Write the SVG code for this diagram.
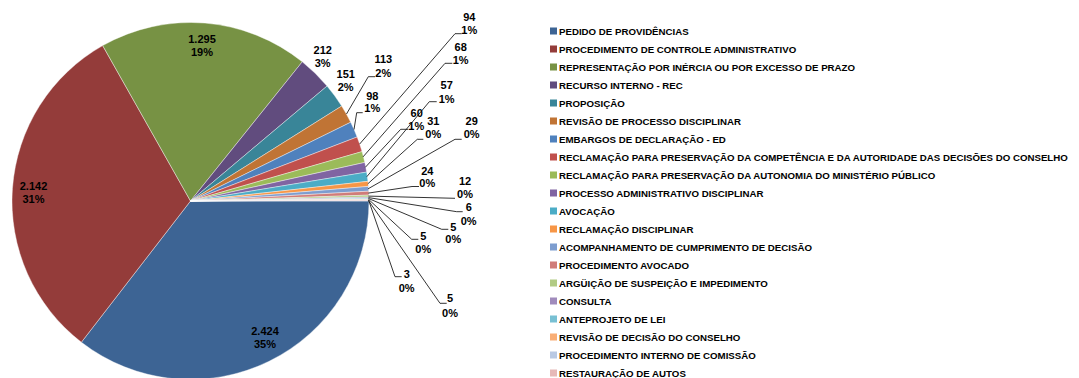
<svg xmlns="http://www.w3.org/2000/svg" width="1079" height="378" viewBox="0 0 1079 378">
<style>
.sl{stroke:#ffffff;stroke-width:0.4}
.dl{font-family:"Liberation Sans",Arial,sans-serif;font-weight:bold;font-size:11px;fill:#000;text-anchor:middle}
.lg{font-family:"Liberation Sans",Arial,sans-serif;font-weight:bold;font-size:9.7px;fill:#000}
.ld{fill:none;stroke:#000;stroke-width:0.8}
</style>
<rect width="1079" height="378" fill="#ffffff"/>
<g id="pie">
<path id="s1" class="sl" fill="#3D6494" d="M190.5,201 L369,201 A178.5,178.5 0 0 1 81.37,342.25 Z"/>
<path id="s2" class="sl" fill="#943C3A" d="M190.5,201 L81.37,342.25 A178.5,178.5 0 0 1 102.68,45.6 Z"/>
<path id="s3" class="sl" fill="#779244" d="M190.5,201 L102.68,45.6 A178.5,178.5 0 0 1 302.28,61.82 Z"/>
<path id="s4" class="sl" fill="#614C7E" d="M190.5,201 L302.28,61.82 A178.5,178.5 0 0 1 327.05,86.05 Z"/>
<path id="s5" class="sl" fill="#398598" d="M190.5,201 L327.05,86.05 A178.5,178.5 0 0 1 341.67,106.07 Z"/>
<path id="s6" class="sl" fill="#C07435" d="M190.5,201 L341.67,106.07 A178.5,178.5 0 0 1 350.69,122.25 Z"/>
<path id="s7" class="sl" fill="#4F81BD" d="M190.5,201 L350.69,122.25 A178.5,178.5 0 0 1 357.13,136.99 Z"/>
<path id="s8" class="sl" fill="#C0504D" d="M190.5,201 L357.13,136.99 A178.5,178.5 0 0 1 362.04,151.61 Z"/>
<path id="s9" class="sl" fill="#9BBB59" d="M190.5,201 L362.04,151.61 A178.5,178.5 0 0 1 364.79,162.42 Z"/>
<path id="s10" class="sl" fill="#8064A2" d="M190.5,201 L364.79,162.42 A178.5,178.5 0 0 1 366.64,172.09 Z"/>
<path id="s11" class="sl" fill="#4BACC6" d="M190.5,201 L366.64,172.09 A178.5,178.5 0 0 1 367.92,181.35 Z"/>
<path id="s12" class="sl" fill="#F79646" d="M190.5,201 L367.92,181.35 A178.5,178.5 0 0 1 368.4,186.42 Z"/>
<path id="s13" class="sl" fill="#7D9DCF" d="M190.5,201 L368.4,186.42 A178.5,178.5 0 0 1 368.73,191.17 Z"/>
<path id="s14" class="sl" fill="#D07C79" d="M190.5,201 L368.73,191.17 A178.5,178.5 0 0 1 368.9,195.1 Z"/>
<path id="s15" class="sl" fill="#B2CB84" d="M190.5,201 L368.9,195.1 A178.5,178.5 0 0 1 368.96,197.07 Z"/>
<path id="s16" class="sl" fill="#A08BBC" d="M190.5,201 L368.96,197.07 A178.5,178.5 0 0 1 368.98,198.05 Z"/>
<path id="s17" class="sl" fill="#78C0D3" d="M190.5,201 L368.98,198.05 A178.5,178.5 0 0 1 368.99,198.88 Z"/>
<path id="s18" class="sl" fill="#F9AE76" d="M190.5,201 L368.99,198.88 A178.5,178.5 0 0 1 369,199.69 Z"/>
<path id="s19" class="sl" fill="#B9C9E3" d="M190.5,201 L369,199.69 A178.5,178.5 0 0 1 369,200.18 Z"/>
<path id="s20" class="sl" fill="#E6B9B8" d="M190.5,201 L369,200.18 A178.5,178.5 0 0 1 369,201 Z"/>
</g>
<g id="connectors">
<polyline class="ld" points="346.5,114 368.3,76.7 375,76.7"/>
<polyline class="ld" points="354,129.5 356.7,112.7 362.7,112.7"/>
<polyline class="ld" points="359.5,144.2 455,33.7 461.7,33.7"/>
<polyline class="ld" points="363,156.9 445,63.3 452.3,63.3"/>
<polyline class="ld" points="365.3,167.3 400.7,129.3 408.3,129.3"/>
<polyline class="ld" points="366.8,176.7 429.3,101.7 436.7,101.7"/>
<polyline class="ld" points="367.7,183.9 417.3,139.3 423.3,139.3"/>
<polyline class="ld" points="368.1,188.8 455,139.3 461.7,139.3"/>
<polyline class="ld" points="368.3,193.1 412,186.5 419,186.5"/>
<polyline class="ld" points="368.4,196.1 455,198.3"/>
<polyline class="ld" points="368.5,197.6 456.7,211.7 462.7,211.7"/>
<polyline class="ld" points="368.5,198.5 441.7,229.3 448.3,229.3"/>
<polyline class="ld" points="368.5,199.3 411.7,239.3 418.3,239.3"/>
<polyline class="ld" points="368.5,199.9 395,276.7 401.7,276.7"/>
<polyline class="ld" points="368.5,200.6 440,303.3 446.7,303.3"/>
</g>
<g id="labels">
<text class="dl" x="265" y="335">2.424</text><text class="dl" x="265" y="348">35%</text>
<text class="dl" x="33.5" y="189.7">2.142</text><text class="dl" x="33.5" y="203">31%</text>
<text class="dl" x="202" y="43">1.295</text><text class="dl" x="202" y="56">19%</text>
<text class="dl" x="322.7" y="54">212</text><text class="dl" x="322.7" y="67">3%</text>
<text class="dl" x="345.7" y="78">151</text><text class="dl" x="345.7" y="91">2%</text>
<text class="dl" x="383.3" y="63.3">113</text><text class="dl" x="383.3" y="76.7">2%</text>
<text class="dl" x="372.3" y="99.7">98</text><text class="dl" x="372.3" y="112.3">1%</text>
<text class="dl" x="469.3" y="20.7">94</text><text class="dl" x="469.3" y="34">1%</text>
<text class="dl" x="460.7" y="50.7">68</text><text class="dl" x="460.7" y="64">1%</text>
<text class="dl" x="416.7" y="116.7">60</text><text class="dl" x="416.3" y="129.7">1%</text>
<text class="dl" x="446.7" y="89.3">57</text><text class="dl" x="446.7" y="103">1%</text>
<text class="dl" x="433.3" y="124.7">31</text><text class="dl" x="433.3" y="138.3">0%</text>
<text class="dl" x="471.7" y="124.7">29</text><text class="dl" x="471.7" y="138.3">0%</text>
<text class="dl" x="427.3" y="174.7">24</text><text class="dl" x="427.3" y="187.3">0%</text>
<text class="dl" x="465" y="184.7">12</text><text class="dl" x="465" y="197.7">0%</text>
<text class="dl" x="468.7" y="211.3">6</text><text class="dl" x="468.7" y="224.7">0%</text>
<text class="dl" x="453.3" y="230.7">5</text><text class="dl" x="453.3" y="243.3">0%</text>
<text class="dl" x="423.3" y="240">5</text><text class="dl" x="423.3" y="253.3">0%</text>
<text class="dl" x="406.7" y="278.3">3</text><text class="dl" x="406.7" y="291.7">0%</text>
<text class="dl" x="450" y="301.7">5</text><text class="dl" x="450" y="316.7">0%</text>
</g>
<g id="legend">
<rect x="550" y="27.5" width="7" height="7" fill="#3D6494"/><text class="lg" x="559" y="34.5">PEDIDO DE PROVIDÊNCIAS</text>
<rect x="550" y="45.5" width="7" height="7" fill="#943C3A"/><text class="lg" x="559" y="52.5">PROCEDIMENTO DE CONTROLE ADMINISTRATIVO</text>
<rect x="550" y="63.5" width="7" height="7" fill="#779244"/><text class="lg" x="559" y="70.5">REPRESENTAÇÃO POR INÉRCIA OU POR EXCESSO DE PRAZO</text>
<rect x="550" y="81.5" width="7" height="7" fill="#614C7E"/><text class="lg" x="559" y="88.5">RECURSO INTERNO - REC</text>
<rect x="550" y="99.5" width="7" height="7" fill="#398598"/><text class="lg" x="559" y="106.5">PROPOSIÇÃO</text>
<rect x="550" y="117.5" width="7" height="7" fill="#C07435"/><text class="lg" x="559" y="124.5">REVISÃO DE PROCESSO DISCIPLINAR</text>
<rect x="550" y="135.5" width="7" height="7" fill="#4F81BD"/><text class="lg" x="559" y="142.5">EMBARGOS DE DECLARAÇÃO - ED</text>
<rect x="550" y="153.5" width="7" height="7" fill="#C0504D"/><text class="lg" x="559" y="160.5">RECLAMAÇÃO PARA PRESERVAÇÃO DA COMPETÊNCIA E DA AUTORIDADE DAS DECISÕES DO CONSELHO</text>
<rect x="550" y="171.5" width="7" height="7" fill="#9BBB59"/><text class="lg" x="559" y="178.5">RECLAMAÇÃO PARA PRESERVAÇÃO DA AUTONOMIA DO MINISTÉRIO PÚBLICO</text>
<rect x="550" y="189.5" width="7" height="7" fill="#8064A2"/><text class="lg" x="559" y="196.5">PROCESSO ADMINISTRATIVO DISCIPLINAR</text>
<rect x="550" y="207.5" width="7" height="7" fill="#4BACC6"/><text class="lg" x="559" y="214.5">AVOCAÇÃO</text>
<rect x="550" y="225.5" width="7" height="7" fill="#F79646"/><text class="lg" x="559" y="232.5">RECLAMAÇÃO DISCIPLINAR</text>
<rect x="550" y="243.5" width="7" height="7" fill="#7D9DCF"/><text class="lg" x="559" y="250.5">ACOMPANHAMENTO DE CUMPRIMENTO DE DECISÃO</text>
<rect x="550" y="261.5" width="7" height="7" fill="#D07C79"/><text class="lg" x="559" y="268.5">PROCEDIMENTO AVOCADO</text>
<rect x="550" y="279.5" width="7" height="7" fill="#B2CB84"/><text class="lg" x="559" y="286.5">ARGÜIÇÃO DE SUSPEIÇÃO E IMPEDIMENTO</text>
<rect x="550" y="297.5" width="7" height="7" fill="#A08BBC"/><text class="lg" x="559" y="304.5">CONSULTA</text>
<rect x="550" y="315.5" width="7" height="7" fill="#78C0D3"/><text class="lg" x="559" y="322.5">ANTEPROJETO DE LEI</text>
<rect x="550" y="333.5" width="7" height="7" fill="#F9AE76"/><text class="lg" x="559" y="340.5">REVISÃO DE DECISÃO DO CONSELHO</text>
<rect x="550" y="351.5" width="7" height="7" fill="#B9C9E3"/><text class="lg" x="559" y="358.5">PROCEDIMENTO INTERNO DE COMISSÃO</text>
<rect x="550" y="369.5" width="7" height="7" fill="#E6B9B8"/><text class="lg" x="559" y="376.5">RESTAURAÇÃO DE AUTOS</text>
</g>
</svg>
